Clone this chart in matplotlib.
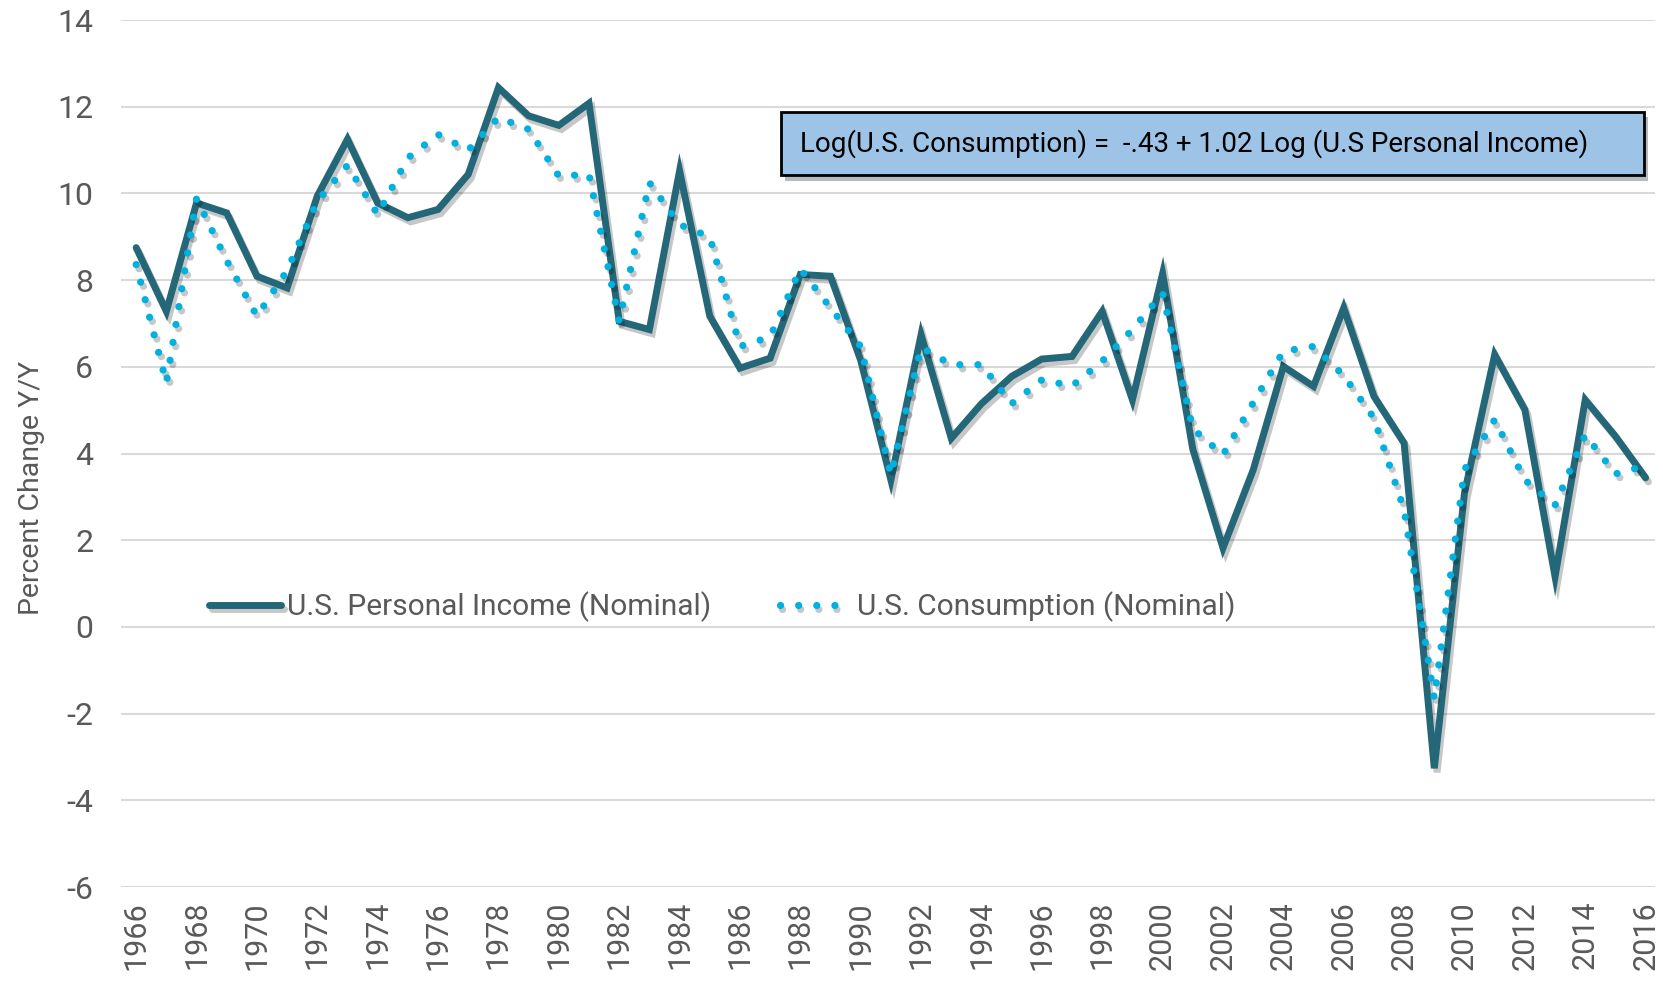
"""Personal income vs consumption growth, 1966-2016."""
import matplotlib
matplotlib.use("Agg")
import matplotlib.pyplot as plt
import matplotlib.patheffects as pe
from matplotlib.patches import Rectangle

years = list(range(1966, 2017))

# percent change y/y
income = [8.75, 7.28, 9.78, 9.55, 8.09, 7.82, 9.94, 11.25, 9.78, 9.44,
          9.63, 10.44, 12.44, 11.79, 11.57, 12.08, 7.05, 6.86, 10.52, 7.17,
          5.97, 6.20, 8.13, 8.09, 6.15, 3.39, 6.74, 4.35, 5.15, 5.78,
          6.18, 6.24, 7.28, 5.24, 8.15, 4.10, 1.82, 3.62, 6.01, 5.55,
          7.36, 5.32, 4.24, -3.26, 3.09, 6.28, 5.01, 1.16, 5.24, 4.40,
          3.44]
consumption = [8.36, 5.63, 9.88, 8.45, 7.17, 8.22, 9.82, 10.65, 9.51, 10.82,
               11.36, 11.00, 11.75, 11.48, 10.40, 10.44, 7.05, 10.25, 9.28, 9.00,
               6.47, 6.69, 8.26, 7.36, 6.47, 3.51, 6.45, 6.05, 6.05, 5.15,
               5.70, 5.56, 6.13, 6.86, 7.70, 4.57, 3.97, 5.17, 6.36, 6.47,
               5.80, 4.82, 2.70, -1.65, 3.63, 4.78, 3.39, 2.81, 4.43, 3.53,
               3.72]

income_label = "U.S. Personal Income (Nominal)"
consumption_label = "U.S. Consumption (Nominal)"
equation = "Log(U.S. Consumption) =  -.43 + 1.02 Log (U.S Personal Income)"

plt.rcParams["font.family"] = ["Roboto", "DejaVu Sans"]
plt.rcParams["axes.unicode_minus"] = False

fig = plt.figure(figsize=(16.63, 9.82), dpi=100)
ax = fig.add_axes([0.0728, 0.0967, 0.9222, 0.8829])

shadow = [pe.SimpleLineShadow(offset=(2, -3), shadow_color="black", alpha=0.22),
          pe.Normal()]

ax.plot(years, income, color="#246778", lw=5, solid_joinstyle="miter",
        solid_capstyle="round", label=income_label, path_effects=shadow, zorder=3)
ax.plot(years, consumption, color="#00B0E0", lw=5.2, linestyle=(0, (0.01, 2.5)),
        dash_capstyle="round", label=consumption_label, path_effects=shadow, zorder=4)

ax.set_xlim(1965.5, 2016.3)
ax.set_ylim(-6, 14)
ax.set_yticks(range(-6, 15, 2))
ax.set_xticks(years[::2])
ax.set_xticklabels([str(y) for y in years[::2]], rotation=90)
ax.tick_params(axis="both", length=0, labelcolor="#595959")
ax.tick_params(axis="y", pad=20, labelsize=23)
ax.tick_params(axis="x", pad=10, labelsize=22)
ax.grid(axis="y", color="#D9D9D9", lw=1.5)
ax.set_axisbelow(True)
for s in ax.spines.values():
    s.set_visible(False)
ax.set_ylabel("Percent Change Y/Y", fontsize=20.5, color="#595959")
ax.yaxis.set_label_coords(-0.0495, 0.46)

leg = ax.legend(loc="center left", bbox_to_anchor=(0.0574, 0.323), ncol=2,
                frameon=False, fontsize=21.5, handlelength=2.4, handletextpad=0.2,
                columnspacing=2.3, borderpad=0, borderaxespad=0)
for t in leg.get_texts():
    t.set_color("#595959")

box = Rectangle((0.430, 0.821), 0.563, 0.073, transform=ax.transAxes,
                facecolor="#9DC3E6", edgecolor="black", lw=2, zorder=5,
                path_effects=[pe.SimplePatchShadow(offset=(3, -4), alpha=0.35),
                              pe.Normal()])
ax.add_patch(box)
ax.text(0.443, 0.8575, equation, transform=ax.transAxes, fontsize=20,
        color="black", va="center", ha="left", zorder=6)

fig.savefig("out.png", dpi=100)
plt.close(fig)
